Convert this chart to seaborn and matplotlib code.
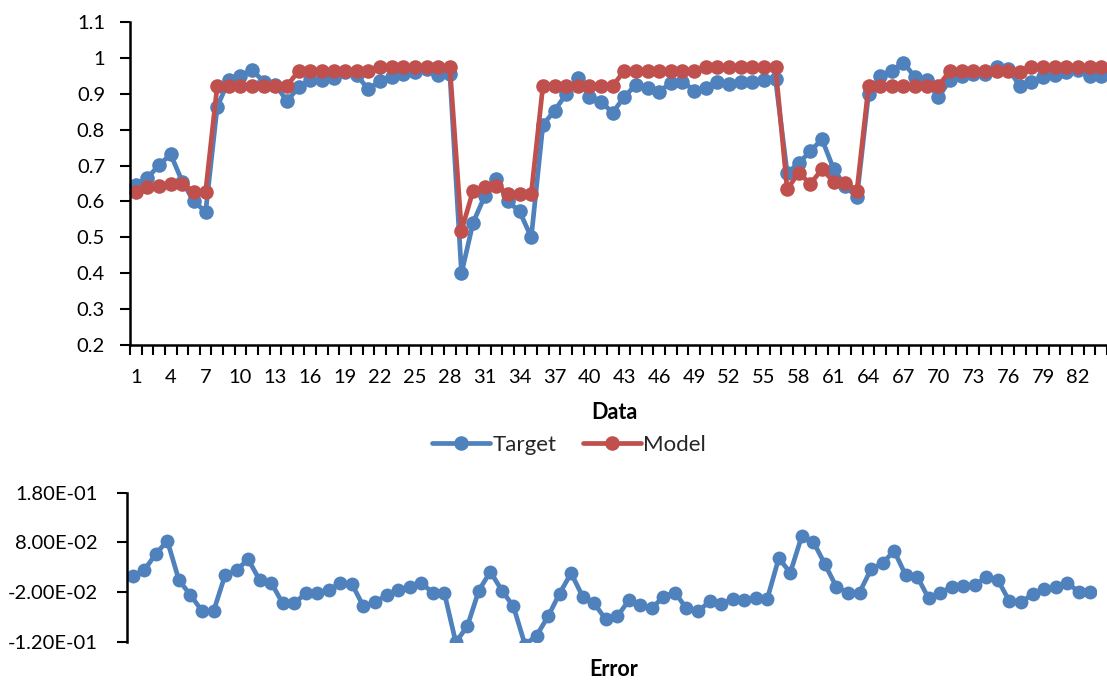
import numpy as np
import pandas as pd
import matplotlib
matplotlib.use("Agg")
import matplotlib.pyplot as plt
import seaborn as sns
from matplotlib.ticker import FixedLocator, NullFormatter

# ---------------- data ----------------
index = list(range(1, 85))

target = [0.646, 0.665, 0.702, 0.731, 0.655, 0.600, 0.571, 0.864, 0.938, 0.950,
          0.966, 0.934, 0.925, 0.880, 0.918, 0.938, 0.938, 0.943, 0.960, 0.952,
          0.912, 0.936, 0.948, 0.955, 0.960, 0.970, 0.952, 0.955, 0.400, 0.541,
          0.615, 0.663, 0.600, 0.572, 0.500, 0.813, 0.853, 0.899, 0.943, 0.892,
          0.878, 0.847, 0.892, 0.925, 0.915, 0.906, 0.931, 0.934, 0.909, 0.915,
          0.934, 0.927, 0.934, 0.934, 0.938, 0.940, 0.680, 0.706, 0.741, 0.773,
          0.690, 0.643, 0.612, 0.900, 0.950, 0.964, 0.987, 0.946, 0.938, 0.890,
          0.938, 0.950, 0.955, 0.955, 0.975, 0.970, 0.922, 0.934, 0.946, 0.952,
          0.960, 0.966, 0.950, 0.950]

model = [0.627, 0.641, 0.643, 0.648, 0.649, 0.627, 0.627, 0.922, 0.922, 0.922,
         0.922, 0.922, 0.922, 0.922, 0.964, 0.964, 0.964, 0.964, 0.964, 0.964,
         0.964, 0.975, 0.975, 0.975, 0.975, 0.975, 0.975, 0.975, 0.519, 0.630,
         0.640, 0.643, 0.621, 0.622, 0.622, 0.922, 0.922, 0.922, 0.922, 0.922,
         0.922, 0.922, 0.964, 0.964, 0.964, 0.964, 0.964, 0.964, 0.964, 0.975,
         0.975, 0.975, 0.975, 0.975, 0.975, 0.975, 0.634, 0.680, 0.649, 0.690,
         0.655, 0.652, 0.630, 0.922, 0.922, 0.922, 0.922, 0.922, 0.922, 0.922,
         0.964, 0.964, 0.964, 0.964, 0.964, 0.964, 0.962, 0.975, 0.975, 0.975,
         0.975, 0.975, 0.975, 0.975]

error = [0.013, 0.024, 0.057, 0.083, 0.004, -0.026, -0.058, -0.059, 0.014, 0.024,
         0.046, 0.004, -0.001, -0.043, -0.043, -0.022, -0.021, -0.016, -0.001, -0.004,
         -0.049, -0.041, -0.026, -0.016, -0.009, -0.002, -0.021, -0.021, -0.121, -0.089,
         -0.017, 0.021, -0.017, -0.049, -0.126, -0.108, -0.069, -0.023, 0.018, -0.029,
         -0.043, -0.075, -0.069, -0.037, -0.046, -0.053, -0.029, -0.021, -0.053, -0.059,
         -0.039, -0.044, -0.034, -0.036, -0.033, -0.034, 0.048, 0.019, 0.093, 0.081,
         0.036, -0.010, -0.021, -0.021, 0.026, 0.038, 0.063, 0.014, 0.011, -0.033,
         -0.021, -0.010, -0.008, -0.006, 0.010, 0.004, -0.039, -0.041, -0.024, -0.014,
         -0.009, -0.002, -0.019, -0.020]

top_yticks = [0.2, 0.3, 0.4, 0.5, 0.6, 0.7, 0.8, 0.9, 1.0, 1.1]
top_yticklabels = ["0.2", "0.3", "0.4", "0.5", "0.6", "0.7", "0.8", "0.9", "1", "1.1"]
x_label_ticks = list(range(1, 85, 3))
err_yticks = [-0.12, -0.02, 0.08, 0.18]
err_yticklabels = ["-1.20E-01", "-2.00E-02", "8.00E-02", "1.80E-01"]

# ---------------- style ----------------
sns.set_theme(style="white")
plt.rcParams["font.family"] = ["Lato", "DejaVu Sans"]
BLUE = "#4F81BD"
RED = "#C0504D"
FS = 14.5

df = pd.DataFrame({"Data": index, "Target": target, "Model": model, "Error": error})

fig = plt.figure(figsize=(11.07, 6.8), dpi=100)
W, H = 1107, 680

# ---------------- top panel ----------------
ax = fig.add_axes([130 / W, 1 - 345 / H, 977 / W, (345 - 22) / H])
sns.lineplot(data=df, x="Data", y="Target", ax=ax, color=BLUE, marker="o",
             markersize=10.5, markeredgewidth=0, linewidth=3.4, label="Target", clip_on=False)
sns.lineplot(data=df, x="Data", y="Model", ax=ax, color=RED, marker="o",
             markersize=10.5, markeredgewidth=0, linewidth=3.4, label="Model", clip_on=False)
ax.set_xlim(0.5, 84.5)
ax.set_ylim(0.2, 1.1)
ax.set_yticks(top_yticks)
ax.set_yticklabels(top_yticklabels)
ax.xaxis.set_major_locator(FixedLocator(np.arange(0.5, 85, 1)))
ax.xaxis.set_major_formatter(NullFormatter())
ax.set_xticks(x_label_ticks, minor=True)
ax.set_xticklabels([str(v) for v in x_label_ticks], minor=True)
ax.tick_params(axis="x", which="major", direction="out", length=7, width=1.5,
               color="black", bottom=True)
ax.tick_params(axis="x", which="minor", length=0, pad=17, labelsize=FS,
               labelcolor="black", bottom=True)
ax.tick_params(axis="y", direction="out", length=7, width=1.5, color="black",
               pad=11, labelsize=FS, labelcolor="black", left=True)
for s in ["top", "right"]:
    ax.spines[s].set_visible(False)
for s in ["left", "bottom"]:
    ax.spines[s].set_color("black")
    ax.spines[s].set_linewidth(1.8)
ax.set_xlabel("")
ax.set_ylabel("")
ax.grid(False)
handles, labels = ax.get_legend_handles_labels()
ax.legend(handles, labels, loc="center", bbox_to_anchor=(569 / W, 1 - 445 / H),
          bbox_transform=fig.transFigure, ncol=2, frameon=False, fontsize=FS + 1.5,
          handlelength=2.6, handletextpad=0.1, columnspacing=1.2)
fig.text(614 / W, 1 - 413 / H, "Data", ha="center", va="center",
         fontsize=FS + 1, fontweight="bold", color="black")

# ---------------- error panel ----------------
ax2 = fig.add_axes([127 / W, 1 - 641.7 / H, 969 / W, 149 / H])
sns.lineplot(data=df, x="Data", y="Error", ax=ax2, color=BLUE, marker="o",
             markersize=10, markeredgewidth=0, linewidth=3.4, legend=False)
ax2.set_xlim(0.5, 84.5)
ax2.set_ylim(-0.12, 0.18)
ax2.set_yticks(err_yticks)
ax2.set_yticklabels(err_yticklabels)
ax2.set_xticks([])
ax2.tick_params(axis="y", direction="out", length=7, width=1.5, color="black",
                pad=14, labelsize=FS, labelcolor="black", left=True)
for s in ["top", "right", "bottom"]:
    ax2.spines[s].set_visible(False)
ax2.spines["left"].set_color("black")
ax2.spines["left"].set_linewidth(1.8)
ax2.set_xlabel("")
ax2.set_ylabel("")
ax2.grid(False)
fig.text(614 / W, 1 - 670 / H, "Error", ha="center", va="center",
         fontsize=FS + 1, fontweight="bold", color="black")

fig.savefig("out.png", dpi=100)
